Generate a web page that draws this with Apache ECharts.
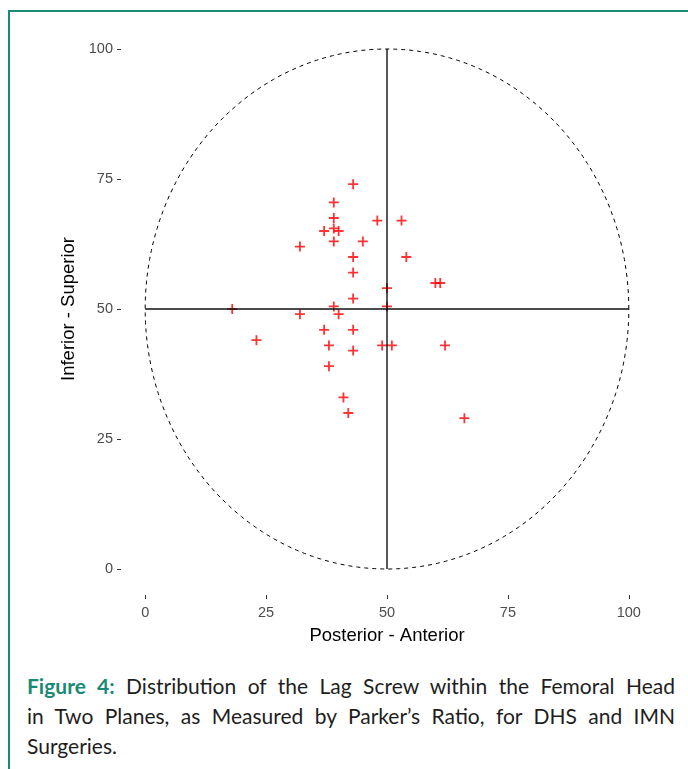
<!DOCTYPE html>
<html>
<head>
<meta charset="utf-8">
<script src="https://cdn.jsdelivr.net/npm/echarts@6/dist/echarts.min.js"></script>
<style>
  html, body { margin: 0; padding: 0; background: #fff; width: 688px; height: 769px; overflow: hidden; }
  #frame { position: absolute; left: 8px; top: 10px; width: 680px; height: 759px; border-left: 2px solid #1b8a74; border-top: 2px solid #1b8a74; box-sizing: border-box; }
  #chart { position: absolute; left: 0; top: 0; width: 688px; height: 660px; }
  #caption { position: absolute; left: 27px; top: 671px; width: 648px; font-family: "Lato", sans-serif; font-size: 21px; color: #1e1e1e; line-height: 30px; }
  #caption .j { text-align: justify; text-align-last: justify; white-space: nowrap; }
  #caption b { color: #1b8a74; font-weight: 700; }
</style>
</head>
<body>
<div id="frame"></div>
<div id="chart"></div>
<div id="caption">
  <div class="j"><b>Figure 4:</b> Distribution of the Lag Screw within the Femoral Head</div>
  <div class="j">in Two Planes, as Measured by Parker’s Ratio, for DHS and IMN</div>
  <div>Surgeries.</div>
</div>
<script>
// Data (Parker's ratio, %)
const posteriorAnterior = [43, 39, 39, 39, 48, 53, 37, 40, 39, 45, 32, 43, 54, 43, 60, 61, 50, 43, 50, 39, 18, 32, 40, 37, 43, 23, 38, 49, 51, 62, 43, 38, 41, 42, 66];
const inferiorSuperior = [74, 70.5, 67.5, 65.5, 67, 67, 65, 65, 63, 63, 62, 60, 60, 57, 55, 55, 54, 52, 50.5, 50.5, 50, 49, 49, 46, 46, 44, 43, 43, 43, 43, 42, 39, 33, 30, 29];
const tickValues = [0, 25, 50, 75, 100];
const centre = [50, 50];
const radius = 50;

const points = posteriorAnterior.map((x, i) => [x, inferiorSuperior[i]]);

// reference circle (Parker's ratio boundary)
const circle = [];
for (let k = 0; k <= 360; k++) {
  const a = k * Math.PI / 180;
  circle.push([centre[0] + radius * Math.cos(a), centre[1] + radius * Math.sin(a)]);
}
const vLine = [[centre[0], centre[1] - radius], [centre[0], centre[1] + radius]];
const hLine = [[centre[0] - radius, centre[1]], [centre[0] + radius, centre[1]]];

const plusPath = 'path://M4.1,0H5.9V4.1H10V5.9H5.9V10H4.1V5.9H0V4.1H4.1Z';

const axisCommon = {
  type: 'value',
  min: -5,
  max: 105,
  splitLine: { show: false },
  axisLine: { show: false, onZero: false },
  axisTick: { show: true, length: 4, customValues: tickValues, lineStyle: { color: '#333', width: 1 } },
  axisLabel: { customValues: tickValues, color: '#4d4d4d', fontFamily: 'Liberation Sans, Arial, sans-serif', fontSize: 14.5 },
  nameLocation: 'middle',
  nameTextStyle: { color: '#000', fontFamily: 'Liberation Sans, Arial, sans-serif', fontSize: 18.5 }
};

const chart = echarts.init(document.getElementById('chart'), null, { renderer: 'canvas' });
chart.setOption({
  animation: false,
  backgroundColor: 'transparent',
  grid: { left: 121, right: 35, top: 23, bottom: 65 },
  xAxis: Object.assign({}, axisCommon, {
    name: 'Posterior - Anterior',
    nameGap: 31,
    axisLabel: Object.assign({}, axisCommon.axisLabel, { margin: 10 })
  }),
  yAxis: Object.assign({}, axisCommon, {
    name: 'Inferior - Superior',
    nameGap: 42,
    axisLabel: Object.assign({}, axisCommon.axisLabel, { margin: 8 })
  }),
  series: [
    {
      type: 'scatter',
      data: points,
      symbol: plusPath,
      symbolSize: 10,
      itemStyle: { color: '#ff0000' },
      z: 2
    },
    {
      type: 'line',
      data: circle,
      showSymbol: false,
      smooth: false,
      lineStyle: { color: '#000', width: 1, type: [4, 4] },
      z: 3
    },
    {
      type: 'line',
      data: vLine,
      showSymbol: false,
      lineStyle: { color: '#111', width: 1.4 },
      z: 4
    },
    {
      type: 'line',
      data: hLine,
      showSymbol: false,
      lineStyle: { color: '#111', width: 1.4 },
      z: 4
    }
  ]
});
</script>
</body>
</html>
